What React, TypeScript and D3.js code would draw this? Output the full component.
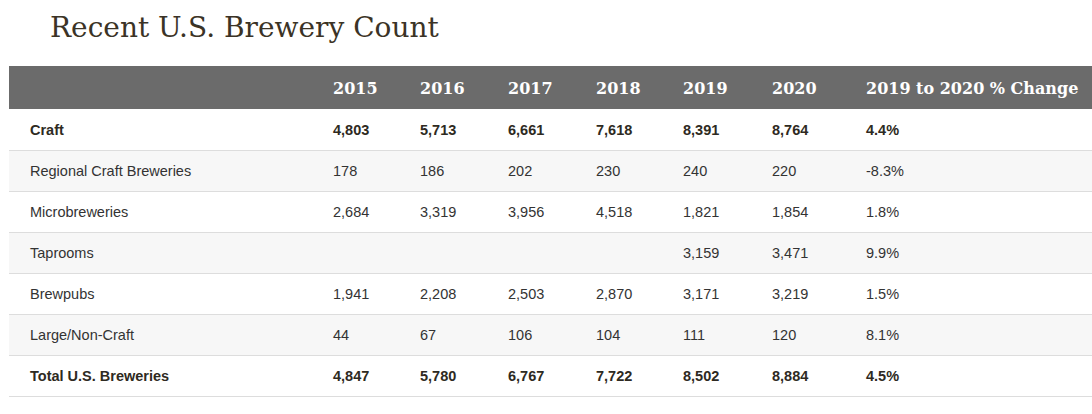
import React from "react";
import * as d3 from "d3";

const title = "Recent U.S. Brewery Count";
const years = ["2015", "2016", "2017", "2018", "2019", "2020"];
const changeHeader = "2019 to 2020 % Change";
const categories = [
  "Craft",
  "Regional Craft Breweries",
  "Microbreweries",
  "Taprooms",
  "Brewpubs",
  "Large/Non-Craft",
  "Total U.S. Breweries",
];
const boldRows = ["Craft", "Total U.S. Breweries"];
const craft = [4803, 5713, 6661, 7618, 8391, 8764];
const regional = [178, 186, 202, 230, 240, 220];
const micro = [2684, 3319, 3956, 4518, 1821, 1854];
const taprooms = [null, null, null, null, 3159, 3471];
const brewpubs = [1941, 2208, 2503, 2870, 3171, 3219];
const largeNonCraft = [44, 67, 106, 104, 111, 120];
const total = [4847, 5780, 6767, 7722, 8502, 8884];
const pctChange = ["4.4%", "-8.3%", "1.8%", "9.9%", "1.5%", "8.1%", "4.5%"];

const seriesValues: (number | null)[][] = [
  craft,
  regional,
  micro,
  taprooms,
  brewpubs,
  largeNonCraft,
  total,
];

export default function App() {
  const W = 1092;
  const H = 414;
  const tableLeft = 9;
  const headerTop = 66;
  const headerBottom = 109;
  const rowH = 41;

  const y = d3
    .scaleBand<string>()
    .domain(categories)
    .range([headerBottom, headerBottom + rowH * categories.length])
    .paddingInner(0)
    .paddingOuter(0);

  const colKeys = ["label", ...years, "change"];
  const x = d3
    .scaleOrdinal<string, number>()
    .domain(colKeys)
    .range([30, 333, 420, 508, 596, 683, 772, 866]);

  const fmt = d3.format(",");

  return (
    <svg
      width={W}
      height={H}
      style={{ position: "absolute", left: 0, top: 0, background: "#fff" }}
    >
      <rect x={0} y={0} width={W} height={H} fill="#fff" />
      <text
        x={50}
        y={37}
        fontFamily="'DejaVu Serif', serif"
        fontSize={28}
        fill="#3b3326"
      >
        {title}
      </text>

      <rect
        x={tableLeft}
        y={headerTop}
        width={W - tableLeft}
        height={headerBottom - headerTop}
        fill="#6b6b6b"
      />
      {years.map((yr) => (
        <text
          key={yr}
          x={x(yr)}
          y={94}
          fontFamily="'DejaVu Serif', serif"
          fontWeight="bold"
          fontSize={16}
          fill="#fff"
        >
          {yr}
        </text>
      ))}
      <text
        x={x("change")}
        y={94}
        fontFamily="'DejaVu Serif', serif"
        fontWeight="bold"
        fontSize={16}
        fill="#fff"
      >
        {changeHeader}
      </text>

      {categories.map((cat, i) => (
        <rect
          key={"bg" + cat}
          x={tableLeft}
          y={y(cat)!}
          width={W - tableLeft}
          height={y.bandwidth()}
          fill={i % 2 === 1 ? "#f7f7f7" : "#fff"}
        />
      ))}
      {categories.map((cat) => (
        <line
          key={"ln" + cat}
          x1={tableLeft}
          x2={W}
          y1={y(cat)! + y.bandwidth() + 0.5}
          y2={y(cat)! + y.bandwidth() + 0.5}
          stroke="#dddddd"
          strokeWidth={1}
        />
      ))}

      {categories.map((cat, i) => {
        const top = y(cat)!;
        const bold = boldRows.includes(cat);
        const base = top + y.bandwidth() / 2 + 5;
        const textProps = {
          fontFamily: "'Liberation Sans', Arial, sans-serif",
          fontSize: 14.5,
          fontWeight: bold ? "bold" : "normal",
          fill: bold ? "#2e2a22" : "#333",
        } as const;
        return (
          <g key={cat}>
            <text x={x("label")} y={base} {...textProps}>
              {cat}
            </text>
            {seriesValues[i].map((v, j) =>
              v == null ? null : (
                <text key={j} x={x(years[j])} y={base} {...textProps}>
                  {fmt(v)}
                </text>
              )
            )}
            <text x={x("change")} y={base} {...textProps}>
              {pctChange[i]}
            </text>
          </g>
        );
      })}
    </svg>
  );
}
